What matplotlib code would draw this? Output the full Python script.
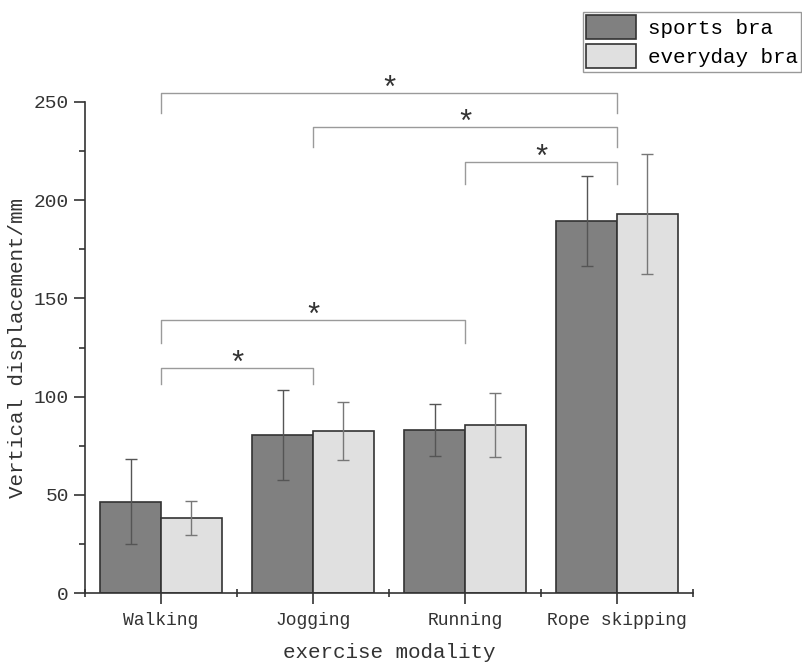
import numpy as np
import matplotlib.pyplot as plt
from matplotlib.ticker import MultipleLocator, FixedLocator

# mean vertical displacement (mm) and SD per exercise
modalities = ["Walking", "Jogging", "Running", "Rope skipping"]
sports_mean = [46.5, 80.5, 83.0, 189.5]
sports_sd = [21.5, 23.0, 13.0, 23.0]
everyday_mean = [38.3, 82.5, 85.5, 193.0]
everyday_sd = [8.7, 14.7, 16.2, 30.5]

# significance brackets: (left group, right group, bar height, leg drop)
sig_pairs = [(0, 3, 254.5, 10), (1, 3, 237.5, 10.5), (2, 3, 219.5, 11.5),
             (0, 2, 139.0, 11.5), (0, 1, 114.5, 8)]

plt.rcParams['font.family'] = ['Liberation Mono', 'DejaVu Sans Mono']

fig = plt.figure(figsize=(8.03, 6.64), dpi=100)
ax = fig.add_axes([85 / 803, 71 / 664, 608 / 803, 491 / 664])

x = np.arange(len(modalities))
w = 0.4
edge = '#333333'
ax.bar(x - w / 2, sports_mean, w, color='#808080', edgecolor=edge,
       linewidth=1.2, label='sports bra', zorder=2)
ax.bar(x + w / 2, everyday_mean, w, color='#e0e0e0', edgecolor=edge,
       linewidth=1.2, label='everyday bra', zorder=2)
ax.errorbar(x - w / 2, sports_mean, yerr=sports_sd, fmt='none',
            ecolor='#555555', elinewidth=1, capsize=4, capthick=1, zorder=3)
ax.errorbar(x + w / 2, everyday_mean, yerr=everyday_sd, fmt='none',
            ecolor='#777777', elinewidth=1, capsize=4, capthick=1, zorder=3)

for a, b, h, d in sig_pairs:
    ax.plot([a, a, b, b], [h - d, h, h, h - d], color='#9a9a9a', lw=1,
            clip_on=False, zorder=1)
    ax.text((a + b) / 2, h - 2.5, '*', ha='center', va='baseline',
            fontsize=22, color='#333333', clip_on=False)

ax.set_xlim(-0.5, 3.5)
ax.set_ylim(0, 250)
ax.set_xticks(x)
ax.set_xticklabels(modalities, fontsize=13)
ax.xaxis.set_minor_locator(FixedLocator([-0.5, 0.5, 1.5, 2.5, 3.5]))
ax.yaxis.set_major_locator(MultipleLocator(50))
ax.yaxis.set_minor_locator(MultipleLocator(25))
ax.tick_params(axis='y', which='major', direction='out', length=8, width=1.2,
               labelsize=14, colors='#333333')
ax.tick_params(axis='y', which='minor', direction='out', length=4, width=1.2,
               colors='#333333')
ax.tick_params(axis='x', which='major', direction='out', length=8, width=1.2,
               labelsize=13, colors='#333333', pad=6)
ax.tick_params(axis='x', which='minor', direction='inout', length=6, width=1.2,
               colors='#333333')
for s in ['top', 'right']:
    ax.spines[s].set_visible(False)
for s in ['left', 'bottom']:
    ax.spines[s].set_linewidth(1.2)
    ax.spines[s].set_color('#333333')

ax.set_xlabel('exercise modality', fontsize=15, color='#333333', labelpad=10)
ax.set_ylabel('Vertical displacement/mm', fontsize=15, color='#333333',
              labelpad=5)

fig.legend(loc='upper left', bbox_to_anchor=(583 / 803, 1 - 12 / 664),
           borderaxespad=0, fontsize=15, handlelength=2.4, handleheight=1.4,
           labelspacing=0.25, handletextpad=0.55, borderpad=0.15,
           fancybox=False, edgecolor='#999999', framealpha=1)

fig.savefig('out.png', dpi=100)
